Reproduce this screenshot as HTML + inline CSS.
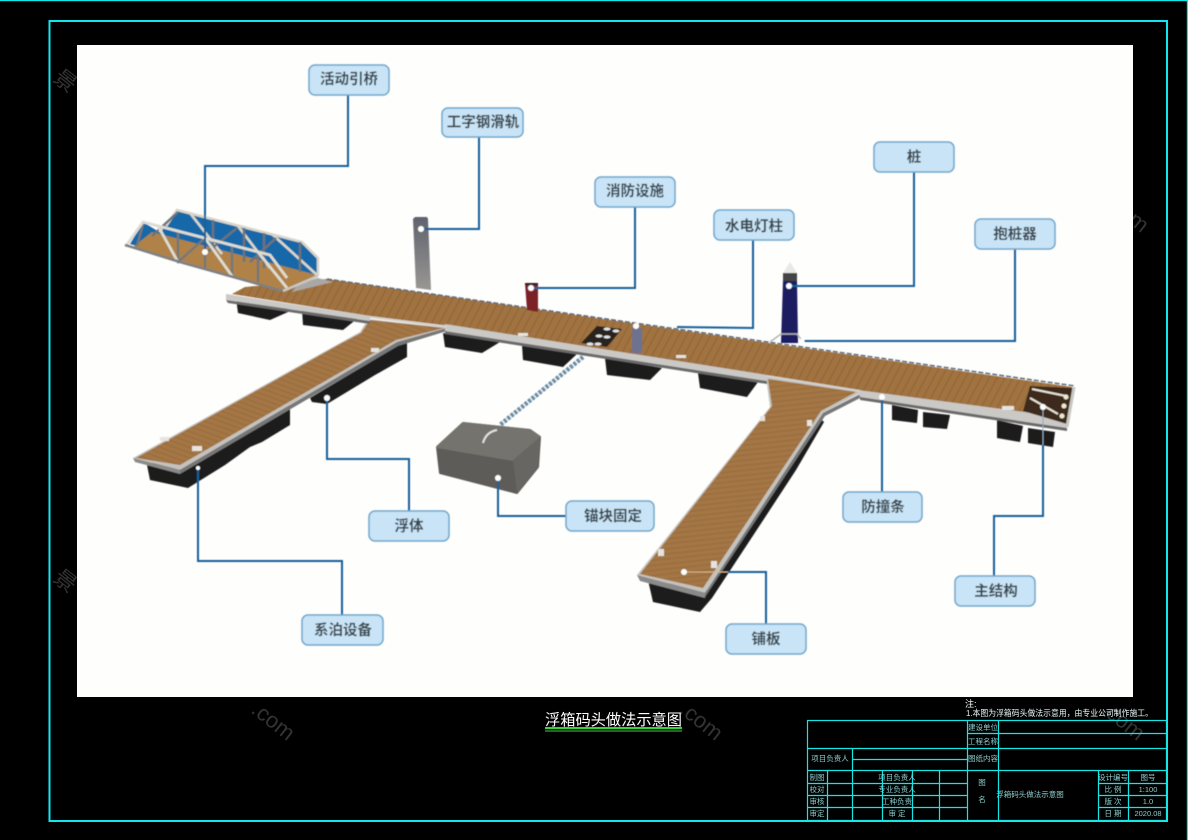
<!DOCTYPE html>
<html lang="zh">
<head>
<meta charset="utf-8">
<title>浮箱码头做法示意图</title>
<style>
html,body{margin:0;padding:0;background:#000;width:1188px;height:840px;overflow:hidden}
svg{display:block}
text{font-family:"Liberation Sans","Noto Sans CJK SC",sans-serif}
.lb{font-size:14.5px;font-weight:700;fill:#3a464f;text-anchor:middle}
.box{fill:#c8e4f6;stroke:#6fa6cc;stroke-width:1.5}
.w{fill:none;stroke:#15609a;stroke-width:2}
.f{fill:#1c1a1c}
.t{font-size:7.5px;fill:#8ccccc;text-anchor:middle}
.g{stroke:#14e6e6;stroke-width:1.2;fill:none}
</style>
</head>
<body>
<svg width="1188" height="840" viewBox="0 0 1188 840" xmlns="http://www.w3.org/2000/svg">
<defs>
<pattern id="pm" width="7" height="7" patternUnits="userSpaceOnUse" patternTransform="rotate(28)">
<rect width="7" height="7" fill="#a1733f"/><rect width="1.5" height="7" fill="#94683a"/>
</pattern>
<pattern id="pa" width="5" height="5" patternUnits="userSpaceOnUse" patternTransform="rotate(20)">
<rect width="5" height="5" fill="#a47644"/><rect width="5" height="1.2" fill="#986c3d"/>
</pattern>
<pattern id="pb" width="5" height="5" patternUnits="userSpaceOnUse" patternTransform="rotate(-6)">
<rect width="5" height="5" fill="#a47644"/><rect width="5" height="1.2" fill="#986c3d"/>
</pattern>
<linearGradient id="gp" x1="0" y1="0" x2="0" y2="1"><stop offset="0" stop-color="#5f636c"/><stop offset="1" stop-color="#9a9794"/></linearGradient>
<filter id="bl" x="-5%" y="-5%" width="110%" height="110%"><feGaussianBlur stdDeviation="0.55"/></filter>
</defs>

<rect width="1188" height="840" fill="#000"/>
<rect x="0" y="0" width="1188" height="1.2" fill="#12e6e6"/>
<rect x="1186.8" y="0" width="1.2" height="840" fill="#12e6e6"/>
<rect x="49.5" y="21" width="1117.5" height="800" fill="none" stroke="#12e6f0" stroke-width="2"/>

<!-- watermarks on black -->
<g font-size="22" fill="#333">
<text x="52" y="80" transform="rotate(38 52 80)">景</text>
<text x="52" y="580" transform="rotate(38 52 580)">景</text>
<text x="250" y="712" transform="rotate(38 250 712)">.com</text>
<text x="678" y="712" transform="rotate(38 678 712)">.com</text>
<text x="1100" y="712" transform="rotate(38 1100 712)">.com</text>
<text x="1104" y="204" transform="rotate(38 1104 204)">.com</text>
</g>

<rect x="77" y="45" width="1056" height="652" fill="#fefefc"/>

<g filter="url(#bl)">
<!-- floats main -->
<polygon class="f" points="236,298 290,308 288,312 270,320 238,313"/>
<polygon class="f" points="302,310 358,318 343,330 303,325"/>
<polygon class="f" points="443,333 500,342 482,353 445,347"/>
<polygon class="f" points="522,345 577,354 563,367 523,360"/>
<polygon class="f" points="605,358 662,368 650,380 607,375"/>
<polygon class="f" points="698,373 758,382 747,397 700,388"/>
<polygon class="f" points="892,405 918,410 917,423 892,420"/>
<polygon class="f" points="923,412 950,415 947,429 923,427"/>
<polygon class="f" points="997,420 1023,426 1020,442 997,438"/>
<polygon class="f" points="1028,428 1055,432 1053,447 1028,443"/>
<!-- floats left arm -->
<polygon class="f" points="147,465 290,405 290,425 262,442 250,447 225,465 188,488 150,480"/>
<polygon class="f" points="310,398 407,340 407,357 375,375 327,404 312,402"/>
<!-- floats right arm -->
<polygon class="f" points="648,580 708,590 820,418 824,422 796,470 760,525 712,598 700,612 653,602"/>

<!-- main deck -->
<polygon points="232,294 245,287 327,279 1072,387 1064,420 860,392 450,326 370,316" fill="url(#pm)"/>
<polyline points="327,279 1075,386" fill="none" stroke="#5a6b7c" stroke-width="1.5" stroke-dasharray="5 2"/>

<!-- left arm -->
<polygon points="133,458 340,343 360,332 368,319 448,328 397,342 180,470" fill="#c4c2be"/>
<polygon points="136,458 340,344 361,333 370,320 444,328 396,340 180,465" fill="url(#pa)"/>
<polygon points="133,458 180,470 180,474 135,462" fill="#8a8a88"/>
<polygon points="180,474 398,346 447,331 447,328 397,342 180,470" fill="#777"/>

<!-- right arm -->
<polygon points="637,575 770,407 766,377 862,392 823,413 705,593" fill="#c4c2be"/>
<polygon points="640,574 772,406 768,379 856,392 821,411 703,588" fill="url(#pb)"/>
<polygon points="637,575 705,593 705,598 640,581" fill="#8a8a88"/>
<polygon points="705,597 825,416 864,396 862,393 823,413 705,593" fill="#777"/>

<!-- rails of main deck -->
<polygon points="226,294 370,316 370,321 226,300" fill="#cbc9c5"/>
<polygon points="226,300 370,321 370,324 228,303" fill="#6b6a6a"/>
<polygon points="445,324 767,375 767,381 445,331" fill="#cbc9c5"/>
<polygon points="445,331 767,381 767,384 445,334" fill="#6b6a6a"/>
<polygon points="858,390 1062,417 1067,424 1067,428 860,397" fill="#cbc9c5"/>
<polygon points="860,397 1067,428 1067,431 860,400" fill="#6b6a6a"/>
<line x1="370" y1="317" x2="447" y2="327" stroke="#d4d2cd" stroke-width="2"/>
<line x1="767" y1="376" x2="860" y2="391" stroke="#d4d2cd" stroke-width="2"/>

<!-- open end -->
<polygon points="1030,386 1073,388 1067,424 1023,411" fill="#3d2c1c"/>
<g stroke="#e8e4d8" stroke-width="2"><line x1="1032" y1="389" x2="1066" y2="396"/><line x1="1030" y1="398" x2="1058" y2="414"/></g>
<g fill="#efe8d0"><circle cx="1066" cy="397" r="2.5"/><circle cx="1064" cy="406" r="2.5"/><circle cx="1062" cy="416" r="2.5"/></g>
<line x1="1074" y1="387" x2="1067" y2="427" stroke="#c9c7c3" stroke-width="3"/>

<!-- ramp plate -->
<polygon points="292,292 333,282 318,278 298,284" fill="#a9a8a4"/>

<!-- bridge -->
<polygon points="163,228 177,210 302,242 318,258 318,276 160,238" fill="#1368a8"/>
<polygon points="130,244 143,222 172,240 150,250" fill="#1368a8"/>
<polygon points="133,247 152,232 317,275 284,291" fill="#b08247"/>
<g fill="none" stroke="#d8d6cc" stroke-width="2.6">
<polyline points="166,226 177,210 302,242 318,258 318,276"/>
<path d="M190,213 L222,254 M238,226 L270,268 M272,234 L317,275"/>
</g>
<g fill="none" stroke="#6f7278" stroke-width="2.4">
<path d="M178,212 L152,236 M237,228 L205,254 M276,238 L250,262"/>
<path d="M213,220 L213,250 M244,228 L244,262 M264,233 L264,268 M300,242 L300,272"/>
</g>
<g fill="none" stroke="#75777a" stroke-width="2.4">
<path d="M158,226 L178,262 L205,238 L205,270 M178,232 L178,262 M232,246 L232,276 M258,252 L258,282 M143,224 L137,246"/>
</g>
<g fill="none" stroke="#dedcd2" stroke-width="2.8">
<polyline points="126,246 143,222 270,255 287,278"/>
<path d="M158,226 L178,262 M205,238 L232,276 M258,252 L287,288"/>
</g>
<polyline points="125,245 180,262 283,291" fill="none" stroke="#7e8082" stroke-width="2.5"/>
<polyline points="283,291 318,276" fill="none" stroke="#c9c7c3" stroke-width="2.5"/>

<!-- steel pole -->
<polygon points="413,219 415,217 427,217 428,219 431,290 416,288" fill="url(#gp)"/>
<!-- fire -->
<polygon points="525,283 538,283 538,312 527,310" fill="#7a2328"/>
<rect x="525" y="283" width="13" height="2" fill="#222"/>
<!-- hatch -->
<polygon points="581,343 597,326 622,329 607,347" fill="#2a241e"/>
<g fill="#dfe6ea"><ellipse cx="607" cy="329" rx="3.5" ry="1.5"/><ellipse cx="616" cy="331" rx="3.5" ry="1.5"/><ellipse cx="599" cy="336" rx="3.5" ry="1.5"/><ellipse cx="607" cy="337" rx="3.5" ry="1.5"/><ellipse cx="590" cy="344" rx="3.5" ry="1.5"/><ellipse cx="598" cy="344" rx="3.5" ry="1.5"/></g>
<!-- lamp post -->
<rect x="632" y="328" width="10" height="25" fill="#6d7290"/>
<!-- pile -->
<polygon points="783,273 790,262 797,273" fill="#e8e8e8"/>
<rect x="783" y="273" width="14" height="8" fill="#444"/>
<polygon points="783,281 797,281 798,343 781,343" fill="#1e1a60"/>
<polyline points="770,342 781,334 797,334 803,342" fill="none" stroke="#b0b4b8" stroke-width="1.5"/>
<!-- chain -->
<line x1="583" y1="357" x2="500" y2="425" stroke="#6e8ea6" stroke-width="4.5" stroke-dasharray="3 1.5"/>
<!-- block -->
<polygon points="437,447 463,423 530,430 540,437 538,467 517,493 440,473" fill="#5d5c59" stroke="#5d5c59" stroke-width="2" stroke-linejoin="round"/>
<polygon points="437,447 463,423 530,430 540,437 513,460" fill="#75736d" stroke="#75736d" stroke-width="2" stroke-linejoin="round"/>
<polygon points="513,460 540,437 538,467 517,493" fill="#676663"/>
<path d="M483,443 Q486,432 497,430" fill="none" stroke="#dfe3e3" stroke-width="2"/>

<!-- cleats -->
<g fill="#e6e4de">
<rect x="192" y="446" width="10" height="5"/><rect x="160" y="437" width="9" height="4"/>
<rect x="371" y="348" width="8" height="4"/><rect x="518" y="333" width="10" height="3"/>
<rect x="676" y="355" width="10" height="3"/><rect x="1002" y="406" width="12" height="4"/>
<rect x="658" y="549" width="6" height="7"/><rect x="711" y="561" width="6" height="7"/>
<rect x="807" y="420" width="5" height="6"/><rect x="760" y="416" width="5" height="5"/>
</g>

<!-- connectors -->
<polyline class="w" points="348,95 348,166 205,166 205,252"/>
<polyline class="w" points="479,137 479,229 421,229"/>
<polyline class="w" points="635,207 635,288 531,288"/>
<polyline class="w" points="753,240 753,328 677,327"/>
<polyline class="w" points="914,172 914,286 789,286"/>
<polyline class="w" points="1015,249 1015,341 803,341"/>
<polyline class="w" points="409,511 409,459 327,459 327,398"/>
<polyline class="w" points="342,615 342,561 198,561 198,470"/>
<polyline class="w" points="566,516 498,516 498,478"/>
<polyline class="w" points="766,624 766,572 728,572"/>
<line x1="728" y1="572" x2="684" y2="572" stroke="#d8b88c" stroke-width="1"/>
<polyline class="w" points="882,492 882,398"/>
<polyline class="w" points="994,576 994,516 1043,516 1043,445"/>
<line x1="1043" y1="445" x2="1043" y2="407" stroke="#8fa8bc" stroke-width="1"/>
<g fill="#fff">
<circle cx="205" cy="252" r="3"/><circle cx="421" cy="229" r="3"/><circle cx="531" cy="288" r="3"/>
<circle cx="636" cy="326" r="3"/><circle cx="789" cy="286" r="3"/><circle cx="802" cy="341" r="2.5"/>
<circle cx="327" cy="398" r="3"/><circle cx="198" cy="468" r="2"/><circle cx="498" cy="478" r="3"/>
<circle cx="684" cy="572" r="3"/><circle cx="882" cy="397" r="3"/><circle cx="1043" cy="407" r="3"/>
</g>

<!-- labels -->
<rect class="box" x="309" y="65" width="80" height="30" rx="6"/><text class="lb" x="349" y="84">活动引桥</text>
<rect class="box" x="442" y="108" width="81" height="29" rx="6"/><text class="lb" x="483" y="127">工字钢滑轨</text>
<rect class="box" x="595" y="177" width="80" height="30" rx="6"/><text class="lb" x="635" y="196">消防设施</text>
<rect class="box" x="714" y="210" width="80" height="30" rx="6"/><text class="lb" x="754" y="231">水电灯柱</text>
<rect class="box" x="874" y="142" width="80" height="30" rx="6"/><text class="lb" x="914" y="162">桩</text>
<rect class="box" x="975" y="219" width="80" height="30" rx="6"/><text class="lb" x="1015" y="239">抱桩器</text>
<rect class="box" x="369" y="511" width="80" height="30" rx="6"/><text class="lb" x="409" y="531">浮体</text>
<rect class="box" x="566" y="501" width="88" height="30" rx="6"/><text class="lb" x="613" y="521">锚块固定</text>
<rect class="box" x="843" y="492" width="79" height="30" rx="6"/><text class="lb" x="883" y="512">防撞条</text>
<rect class="box" x="955" y="576" width="80" height="30" rx="6"/><text class="lb" x="996" y="596">主结构</text>
<rect class="box" x="726" y="624" width="80" height="30" rx="6"/><text class="lb" x="766" y="644">铺板</text>
<rect class="box" x="302" y="615" width="81" height="30" rx="6"/><text class="lb" x="343" y="635">系泊设备</text>
</g>

<!-- title -->
<text x="545" y="725" font-size="15.2" fill="#fff" textLength="137" lengthAdjust="spacingAndGlyphs">浮箱码头做法示意图</text>
<rect x="545" y="727" width="137" height="2.2" fill="#3ecf3e"/>
<rect x="545" y="730.5" width="137" height="1" fill="#3ecf3e"/>

<!-- note -->
<text x="965" y="707" font-size="9" fill="#fff">注:</text>
<text x="966" y="716" font-size="8.5" fill="#e6f4f4" textLength="187" lengthAdjust="spacingAndGlyphs">1.本图为浮箱码头做法示意用，由专业公司制作施工。</text>

<!-- title block -->
<g class="g">
<rect x="807.5" y="720.5" width="359" height="100"/>
<path d="M967.5 733.5H1167M807.5 748.5H1167M852.5 759.5H967.5M807.5 770.5H1167M807.5 783.5H967.5M807.5 795.5H967.5M807.5 807.5H967.5M1098 783.5H1167M1098 795.5H1167M1098 807.5H1167"/>
<path d="M827.5 770V821M852.5 748V821M882.5 770V821M912.5 770V821M939.5 770V821M967.5 720V821M998.5 720V821M1098.5 770V821M1128.5 770V821"/>
</g>
<g class="t">
<text x="983" y="730">建设单位</text><text x="983" y="744">工程名称</text>
<text x="830" y="761">项目负责人</text><text x="983" y="761">图纸内容</text>
<text x="817" y="780">制图</text><text x="817" y="792">校对</text><text x="817" y="804">审核</text><text x="817" y="816">审定</text>
<text x="897" y="780">项目负责人</text><text x="897" y="792">专业负责人</text><text x="897" y="804">工种负责</text><text x="897" y="816">审 定</text>
<text x="982" y="785">图</text><text x="982" y="802">名</text>
<text x="1030" y="797">浮箱码头做法示意图</text>
<text x="1113" y="780">设计编号</text><text x="1148" y="780">图号</text>
<text x="1113" y="792">比 例</text><text x="1148" y="792">1:100</text>
<text x="1113" y="804">版 次</text><text x="1148" y="804">1.0</text>
<text x="1113" y="816">日 期</text><text x="1148" y="816">2020.08</text>
</g>
</svg>
</body>
</html>
